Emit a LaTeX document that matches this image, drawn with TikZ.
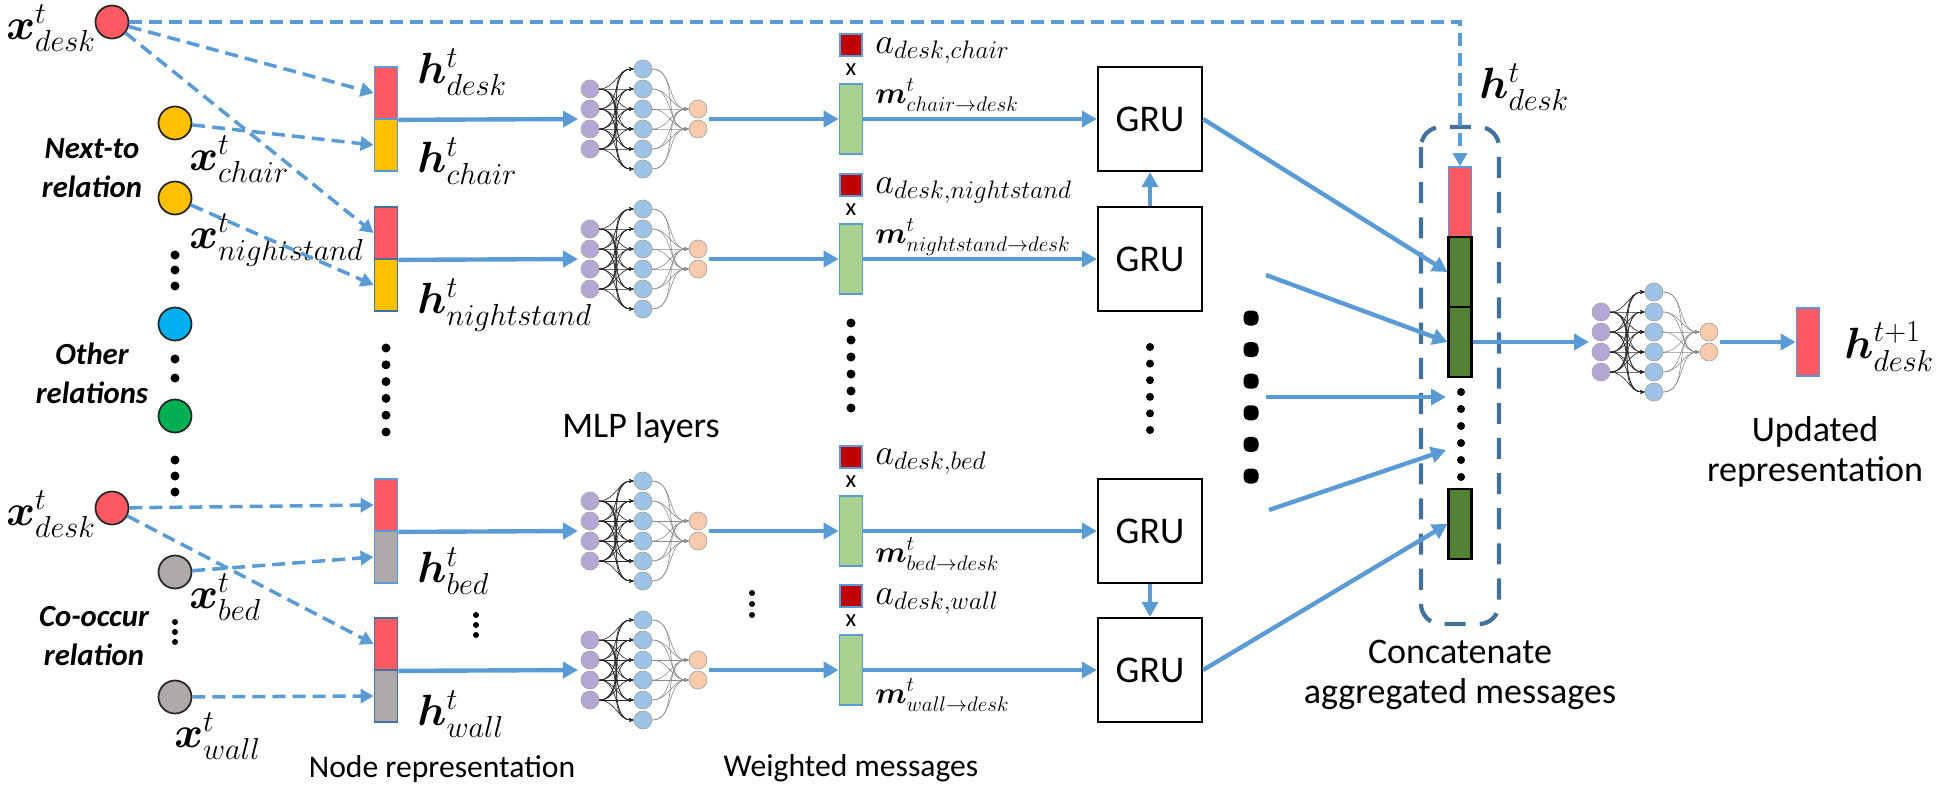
\documentclass[tikz,border=0pt]{standalone}
\usepackage{amsmath}
\usepackage{bm}
\usepackage{fontspec}
\setmainfont{Carlito}
\usepackage{xcolor}
\usetikzlibrary{arrows.meta,positioning,calc}

\definecolor{arrowblue}{HTML}{5B9BD5}
\definecolor{darkblue}{HTML}{41719C}
\definecolor{deskred}{HTML}{FF5A64}
\definecolor{chairyellow}{HTML}{FFC000}
\definecolor{bedgray}{HTML}{AEAAAA}
\definecolor{otherblue}{HTML}{00B0F0}
\definecolor{othergreen}{HTML}{00B050}
\definecolor{attred}{HTML}{C00000}
\definecolor{msggreen}{HTML}{A9D18E}
\definecolor{catgreen}{HTML}{548235}
\definecolor{mlppurple}{HTML}{B4A7D6}
\definecolor{mlpblue}{HTML}{9DC3E6}
\definecolor{mlporange}{HTML}{F8CBAD}

% small MLP icon: name, x, y
\newcommand{\mlpnet}[3]{%
  \begin{scope}[shift={(#2,#3)}]
    \foreach \i/\yy in {1/-30,2/-10,3/10,4/30}
      \node[mlp unit, fill=mlppurple] (#1p\i) at (0,\yy) {};
    \foreach \j/\yy in {1/-50,2/-30,3/-10,4/10,5/30,6/50}
      \node[mlp unit, fill=mlpblue] (#1b\j) at (53,\yy) {};
    \foreach \k/\yy in {1/-10,2/10}
      \node[mlp unit, fill=mlporange] (#1o\k) at (108,\yy) {};
    \foreach \i in {1,...,4}
      \foreach \j in {1,...,6}
        \draw[mlp link] (#1p\i.east) to[out=0,in=180] (#1b\j.west);
    \foreach \j in {1,...,6}
      \foreach \k in {1,2}
        \draw[mlp link2] (#1b\j.east) to[out=0,in=180] (#1o\k.west);
    \coordinate (#1in) at (-12,0);
    \coordinate (#1out) at (119,0);
  \end{scope}}

\begin{document}
\begin{tikzpicture}[
    %	style def
    x=0.02cm, y=-0.02cm,
    flow/.style={draw=arrowblue, line width=2.5pt, -{Triangle[length=0.3cm,width=0.32cm]}},
    dashflow/.style={draw=arrowblue, line width=2pt, dash pattern=on 7.4pt off 4pt, -{Triangle[length=0.26cm,width=0.28cm]}},
    obj/.style={circle, draw=black!85, line width=1pt, minimum size=0.66cm, inner sep=0},
    vec/.style={rectangle, draw=arrowblue, line width=1pt, minimum width=0.46cm, minimum height=1.04cm, inner sep=0},
    msg/.style={rectangle, draw=arrowblue, line width=1pt, fill=msggreen, minimum width=0.46cm, minimum height=1.4cm, inner sep=0},
    att/.style={rectangle, draw=arrowblue, line width=1pt, fill=attred, minimum size=0.44cm, inner sep=0},
    cat/.style={rectangle, draw=black, line width=1.2pt, fill=catgreen, minimum width=0.46cm, minimum height=1.4cm, inner sep=0},
    gru/.style={rectangle, draw=black, line width=1.3pt, minimum size=2.08cm, font=\fontsize{21.5}{24}\selectfont},
    mlp unit/.style={circle, draw=black!35, line width=0.4pt, minimum size=0.36cm, inner sep=0},
    mlp link/.style={black!85, line width=0.35pt, -{Stealth[length=2.5pt,width=2pt]}},
    mlp link2/.style={black!45, line width=0.35pt, -{Stealth[length=2.5pt,width=2pt]}},
    mathlab/.style={font=\fontsize{23}{27}\selectfont, inner sep=0, anchor=base west},
    msglab/.style={font=\fontsize{19.5}{23}\selectfont, inner sep=0, anchor=base west},
    mlab/.style={font=\fontsize{18}{22}\selectfont, inner sep=0, anchor=base west},
    rel/.style={font=\fontsize{17.5}{22}\selectfont\bfseries\itshape, align=center},
    captext/.style={font=\fontsize{18}{22}\selectfont, align=center},
    bigcap/.style={font=\fontsize{20.5}{23}\selectfont, align=center},
    dotsm/.style={fill=black}
    ]
    \useasboundingbox (0,0) rectangle (1942,788);

    % object nodes
    \node[obj, fill=deskred] (xd1) at (112,22) {};
    \node[obj, fill=chairyellow] (chair) at (175,123) {};
    \node[obj, fill=chairyellow] (night) at (175,198) {};
    \node[obj, fill=otherblue] (oth1) at (175,324) {};
    \node[obj, fill=othergreen] (oth2) at (175,416) {};
    \node[obj, fill=deskred] (xd2) at (112,508) {};
    \node[obj, fill=bedgray] (bed) at (175,572) {};
    \node[obj, fill=bedgray] (wall) at (175,697) {};

    \node[mathlab] (lxd1) at (6,39) {$\bm{x}^t_{desk}$};
    \node[mathlab] (lchair) at (189,170) {$\bm{x}^t_{chair}$};
    \node[mathlab] (lnight) at (189,248) {$\bm{x}^t_{nightstand}$};
    \node[mathlab] (lxd2) at (6,525) {$\bm{x}^t_{desk}$};
    \node[mathlab] (lbed) at (189,608) {$\bm{x}^t_{bed}$};
    \node[mathlab] (lwall) at (174,747) {$\bm{x}^t_{wall}$};

    \node[rel] (rnext) at (92,168) {Next-to\\relation};
    \node[rel] (rother) at (92,373) {Other\\relations};
    \node[rel] (rco) at (94,636) {Co-occur\\relation};

    % left column dots
    \foreach \yy in {255,270,286,359,378,460,476,492}
        \fill[dotsm] (175,\yy) circle (4.5);
    \foreach \yy in {622,632,642}
        \fill[dotsm] (175,\yy) circle (3);

    % node representation stacks
    \node[vec, fill=deskred] (h1a) at (386,93) {};
    \node[vec, fill=chairyellow] (h1b) at (386,145) {};
    \node[vec, fill=deskred, draw=darkblue] (h2a) at (386,233) {};
    \node[vec, fill=chairyellow, draw=darkblue] (h2b) at (386,285) {};
    \node[vec, fill=deskred] (h3a) at (386,505) {};
    \node[vec, fill=bedgray] (h3b) at (386,557) {};
    \node[vec, fill=deskred, draw=darkblue] (h4a) at (386,644) {};
    \node[vec, fill=bedgray, draw=darkblue] (h4b) at (386,696) {};

    \node[mathlab] (lh1) at (417,83) {$\bm{h}^t_{desk}$};
    \node[mathlab] (lh2) at (417,172) {$\bm{h}^t_{chair}$};
    \node[mathlab] (lh3) at (417,313) {$\bm{h}^t_{nightstand}$};
    \node[mathlab] (lh4) at (417,582) {$\bm{h}^t_{bed}$};
    \node[mathlab] (lh5) at (417,725) {$\bm{h}^t_{wall}$};

    \foreach \k in {0,...,5}
        \fill[dotsm] (386,348+16.8*\k) circle (4.5);
    \foreach \yy in {615,625,635}
        \fill[dotsm] (476,\yy) circle (3);

    % dashed inputs
    \draw[dashflow] (xd1) -- (h1a.west);
    \draw[dashflow] (xd1) -- (h2a.west);
    \draw[dashflow] (chair) -- (h1b.west);
    \draw[dashflow] (night) -- (h2b.west);
    \draw[dashflow] (xd2) -- (h3a.west);
    \draw[dashflow] (xd2) -- (h4a.west);
    \draw[dashflow] (bed) -- (h3b.west);
    \draw[dashflow] (wall) -- (h4b.west);

    % MLP layers
    \mlpnet{m1}{590}{119}
    \mlpnet{m2}{590}{259}
    \mlpnet{m3}{590}{531}
    \mlpnet{m4}{590}{670}
    \node[bigcap] (tmlp) at (641,428) {MLP layers};
    \foreach \yy in {593,604,615}
        \fill[dotsm] (752,\yy) circle (3);

    \draw[flow] (h1a.south east) -- (m1in);
    \draw[flow] (h2a.south east) -- (m2in);
    \draw[flow] (h3a.south east) -- (m3in);
    \draw[flow] (h4a.south east) -- (m4in);

    % weighted messages
    \node[msg] (w1) at (851,119) {};
    \node[msg] (w2) at (851,259) {};
    \node[msg] (w3) at (851,531) {};
    \node[msg] (w4) at (851,670) {};
    \node[att] (a1) at (851,45) {};
    \node[att] (a2) at (851,185) {};
    \node[att] (a3) at (851,457) {};
    \node[att] (a4) at (851,596) {};
    \foreach \yy in {70,210,482,621}
        \node[font=\fontsize{14}{16}\selectfont, inner sep=0] at (851,\yy) {x};

    \node[msglab] (la1) at (875,53) {$a_{desk,chair}$};
    \node[msglab] (la2) at (875,193) {$a_{desk,nightstand}$};
    \node[msglab] (la3) at (875,464) {$a_{desk,bed}$};
    \node[msglab] (la4) at (875,604) {$a_{desk,wall}$};
    \node[mlab] (lm1) at (875,103) {$\bm{m}^t_{chair\rightarrow desk}$};
    \node[mlab] (lm2) at (875,243) {$\bm{m}^t_{nightstand\rightarrow desk}$};
    \node[mlab] (lm3) at (875,562) {$\bm{m}^t_{bed\rightarrow desk}$};
    \node[mlab] (lm4) at (875,703) {$\bm{m}^t_{wall\rightarrow desk}$};

    \foreach \k in {0,...,5}
        \fill[dotsm] (851,323+17*\k) circle (4.5);

    \draw[flow] (m1out) -- (w1.west);
    \draw[flow] (m2out) -- (w2.west);
    \draw[flow] (m3out) -- (w3.west);
    \draw[flow] (m4out) -- (w4.west);

    % GRU cells
    \node[gru] (g1) at (1150,119) {GRU};
    \node[gru] (g2) at (1150,259) {GRU};
    \node[gru] (g3) at (1150,531) {GRU};
    \node[gru] (g4) at (1150,670) {GRU};
    \draw[flow] (w1.east) -- (g1.west);
    \draw[flow] (w2.east) -- (g2.west);
    \draw[flow] (w3.east) -- (g3.west);
    \draw[flow] (w4.east) -- (g4.west);
    \draw[flow] (g2.north) -- (g1.south);
    \draw[flow] (g3.south) -- (g4.north);
    \foreach \k in {0,...,5}
        \fill[dotsm] (1150,347+16.6*\k) circle (4);
    \foreach \k in {0,...,5}
        \fill[dotsm, rounded corners=3] (1251-7.5,318+31.6*\k-7.5) rectangle ++(15,15);

    % concatenation
    \draw[darkblue, line width=2.4pt, dash pattern=on 12pt off 8pt, rounded corners=0.4cm] (1421,127) rectangle (1499,624);
    \node[vec, fill=deskred, minimum height=1.4cm] (c1) at (1460,202) {};
    \node[cat] (c2) at (1460,272) {};
    \node[cat] (c3) at (1460,342) {};
    \node[cat] (c4) at (1460,524) {};
    \foreach \k in {0,...,5}
        \fill[dotsm] (1461,392+17*\k) circle (4);
    \node[mathlab] (lhc) at (1479,98) {$\bm{h}^t_{desk}$};

    \draw[dashflow] (xd1.east) -- (xd1.east -| c1.north) -- (c1.north);

    \coordinate (s2) at (1266,275);
    \coordinate (s3) at (1266,397);
    \coordinate (e3) at (1446,397);
    \coordinate (s4) at (1269,510);
    \coordinate (e4) at (1446,450);
    \draw[flow] (g1.east) -- (c2.west);
    \draw[flow] (s2) -- (c3.west);
    \draw[flow] (s3) -- (e3);
    \draw[flow] (s4) -- (e4);
    \draw[flow] (g4.east) -- (c4.west);

    % update
    \mlpnet{m5}{1601}{342}
    \node[vec, fill=deskred, minimum height=1.36cm] (hn) at (1808,342) {};
    \node[mathlab] (lhn) at (1844,358) {$\bm{h}^{t+1}_{desk}$};
    \draw[flow] (c3.east) -- (m5in);
    \draw[flow] (m5out) -- (hn.west);

    % captions
    \node[captext] (tnode) at (442,769) {Node representation};
    \node[captext] (tweight) at (851,768) {Weighted messages};
    \node[bigcap] (tcat) at (1460,675) {Concatenate\\aggregated messages};
    \node[bigcap] (tupd) at (1815,452) {Updated\\representation};
\end{tikzpicture}
\end{document}
